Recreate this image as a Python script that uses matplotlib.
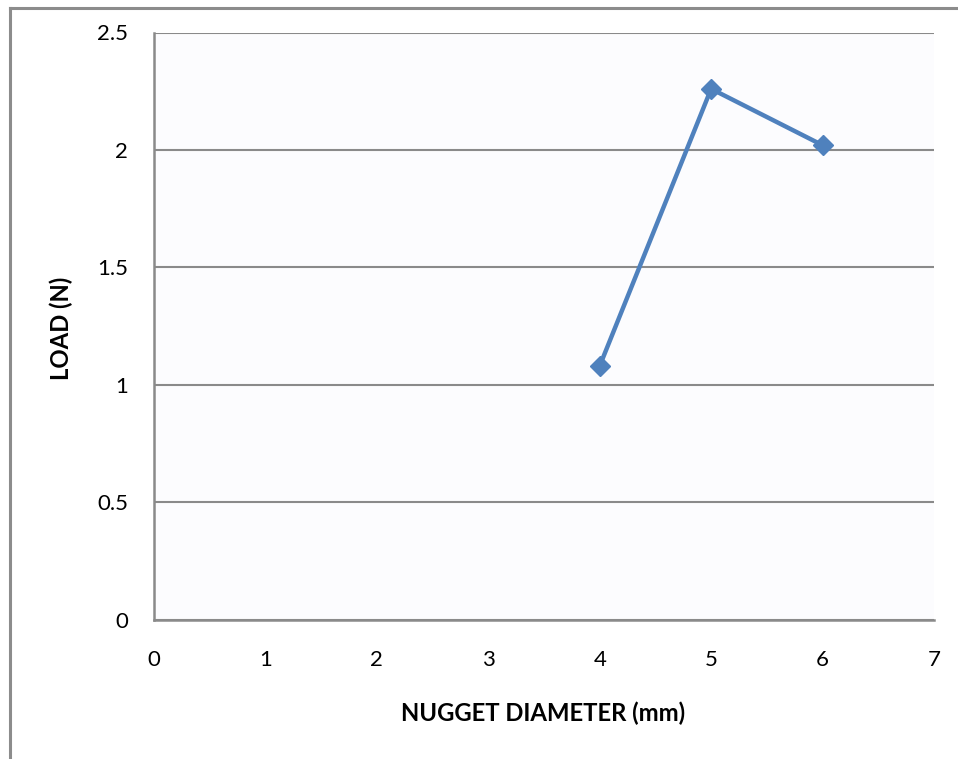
import matplotlib
matplotlib.use("Agg")
import matplotlib.pyplot as plt
from matplotlib.lines import Line2D

# Nugget diameter vs. load
diameter_mm = [4, 5, 6]
load_n = [1.08, 2.26, 2.02]
x_ticks = [0, 1, 2, 3, 4, 5, 6, 7]
y_ticks = [0, 0.5, 1, 1.5, 2, 2.5]
y_tick_labels = ["0", "0.5", "1", "1.5", "2", "2.5"]

plt.rcParams["font.family"] = ["Lato", "DejaVu Sans"]

W, H = 958, 759
DPI = 100
fig = plt.figure(figsize=(W / DPI, H / DPI), dpi=DPI)
fig.patch.set_facecolor("white")

# Chart frame (top and left edges)
frame_color = "#8c8c8c"
fig.add_artist(Line2D([10 / W, 1.0], [1 - 8 / H, 1 - 8 / H], color=frame_color, lw=2.2,
                      transform=fig.transFigure))
fig.add_artist(Line2D([10 / W, 10 / W], [1 - 8 / H, 0.0], color=frame_color, lw=2.2,
                      transform=fig.transFigure))

left, right, top, bottom = 154, 934, 32.5, 619.5
ax_w, ax_h = right - left, bottom - top
ax = fig.add_axes([left / W, 1 - bottom / H, ax_w / W, ax_h / H])
ax.set_facecolor("#fcfcfe")

ax.set_xlim(0, 7)
ax.set_ylim(0, 2.5)
ax.set_xticks(x_ticks)
ax.set_yticks(y_ticks)
ax.set_yticklabels(y_tick_labels)

ax.grid(axis="y", color="#8a8a8a", lw=1.5)
ax.set_axisbelow(True)
for side in ("top", "right"):
    ax.spines[side].set_visible(False)
for side in ("left", "bottom"):
    ax.spines[side].set_color("#8a8a8a")
    ax.spines[side].set_linewidth(1.8)

tick_pt = 16
ax.tick_params(length=0, labelsize=tick_pt, colors="black")
ax.tick_params(axis="y", pad=26 * 72 / DPI)
ax.tick_params(axis="x", pad=31 * 72 / DPI)

ax.plot(diameter_mm, load_n, color="#4f81bd", lw=3.2, marker="D", markersize=10,
        markerfacecolor="#4f81bd", markeredgecolor="#4f81bd", clip_on=False, zorder=3)

xlab = ax.set_xlabel("NUGGET DIAMETER (mm)", fontsize=16, fontweight="bold", va="center")
ylab = ax.set_ylabel("LOAD (N)", fontsize=16, fontweight="bold", va="center")

# Size the axis titles so the x title spans ~285 px
fig.canvas.draw()
r = fig.canvas.get_renderer()
width_px = xlab.get_window_extent(r).width
title_pt = 16 * 285 / width_px
xlab.set_fontsize(title_pt)
ylab.set_fontsize(title_pt)

# Title centres in pixel space converted to axes fractions
ax.xaxis.set_label_coords((543 - left) / ax_w, (bottom - 713) / ax_h)
ax.yaxis.set_label_coords((61 - left) / ax_w, (bottom - 328) / ax_h)

fig.savefig("out.png", dpi=DPI, facecolor="white")
